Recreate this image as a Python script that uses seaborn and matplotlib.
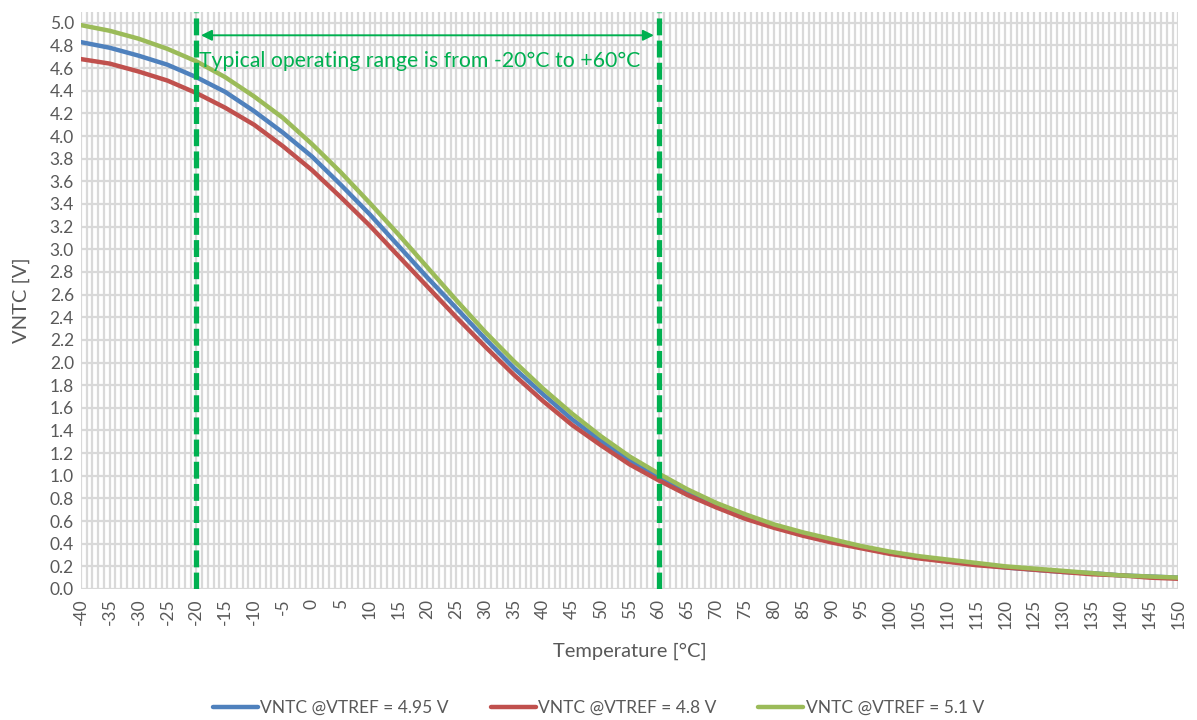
import numpy as np
import pandas as pd
import seaborn as sns
import matplotlib.pyplot as plt
from matplotlib.ticker import MultipleLocator

# temperature points, read every 5 degC
temps = list(range(-40, 151, 5))

# VNTC @ VTREF = 4.95 V
v_495 = [4.83, 4.78, 4.71, 4.63, 4.52, 4.39, 4.22, 4.03, 3.82, 3.57,
         3.31, 3.03, 2.75, 2.48, 2.21, 1.95, 1.72, 1.50, 1.31, 1.14,
         0.99, 0.85, 0.74, 0.64, 0.56, 0.49, 0.42, 0.37, 0.32, 0.28,
         0.25, 0.22, 0.19, 0.17, 0.15, 0.14, 0.12, 0.11, 0.10]
# VNTC @ VTREF = 4.8 V
v_48 = [4.68, 4.64, 4.57, 4.49, 4.38, 4.25, 4.10, 3.91, 3.70, 3.46,
        3.21, 2.94, 2.67, 2.40, 2.14, 1.89, 1.66, 1.45, 1.27, 1.10,
        0.96, 0.83, 0.72, 0.62, 0.54, 0.47, 0.41, 0.36, 0.31, 0.27,
        0.24, 0.21, 0.19, 0.17, 0.15, 0.13, 0.12, 0.10, 0.09]
# VNTC @ VTREF = 5.1 V
v_51 = [4.98, 4.93, 4.86, 4.77, 4.66, 4.52, 4.35, 4.16, 3.93, 3.68,
        3.41, 3.13, 2.84, 2.55, 2.27, 2.01, 1.77, 1.55, 1.35, 1.17,
        1.02, 0.88, 0.76, 0.66, 0.57, 0.50, 0.44, 0.38, 0.33, 0.29,
        0.26, 0.23, 0.20, 0.18, 0.16, 0.14, 0.12, 0.11, 0.10]

series_names = ['VNTC @VTREF = 4.95 V', 'VNTC @VTREF = 4.8 V', 'VNTC @VTREF = 5.1 V']
series_colors = ['#4f81bd', '#c0504d', '#9bbb59']
range_low, range_high = -20, 60
range_text = 'Typical operating range is from -20°C to +60°C'

df = pd.concat([
    pd.DataFrame({'Temperature': temps, 'VNTC': v, 'series': name})
    for v, name in zip([v_495, v_48, v_51], series_names)
])

sns.set_style('white')
plt.rcParams['font.family'] = ['Lato', 'DejaVu Sans']

fig = plt.figure(figsize=(11.97, 7.2), dpi=100)
ax = fig.add_axes([0.0675, 0.182, 0.917, 0.802])

grid_col = '#d9d9d9'
sns.lineplot(data=df, x='Temperature', y='VNTC', hue='series',
             palette=dict(zip(series_names, series_colors)),
             linewidth=3.2, ax=ax, zorder=3)

ax.set_xlim(-40, 150)
ax.set_ylim(0, 5.1)
ax.xaxis.set_minor_locator(MultipleLocator(1))
yt = np.arange(0, 5.01, 0.2)
ax.set_yticks(yt)
ax.set_yticklabels([f'{t:.1f}' for t in yt])
ax.set_xticks(range(-40, 151, 5))
ax.set_xticklabels([str(t) for t in range(-40, 151, 5)], rotation=90)

ax.grid(which='major', axis='both', color=grid_col, linewidth=1.6)
ax.grid(which='minor', axis='x', color=grid_col, linewidth=1.6)
ax.set_axisbelow(True)
for s in ax.spines.values():
    s.set_visible(False)
ax.tick_params(which='both', length=0, labelsize=12.5, labelcolor='#595959')
ax.tick_params(axis='x', pad=7)
ax.tick_params(axis='y', pad=5)

ax.set_xlabel('Temperature [°C]', fontsize=14.5, color='#595959', labelpad=10)
ax.set_ylabel('VNTC [V]', fontsize=14.5, color='#595959', labelpad=14)

# operating range markers
for xv in (range_low, range_high):
    ax.axvline(xv, color='#00b050', linewidth=3.8, linestyle=(0, (3.2, 1.0)), zorder=4)
ax.annotate('', xy=(range_low + 0.8, 4.89), xytext=(range_high - 0.8, 4.89),
            arrowprops=dict(arrowstyle='<|-|>', color='#00b050', lw=1.4,
                            mutation_scale=16, shrinkA=0, shrinkB=0), zorder=5)
ax.text(range_low + 0.5, 4.66, range_text, color='#00b050', fontsize=15.3,
        ha='left', va='center', zorder=5)

handles, labels = ax.get_legend_handles_labels()
ax.legend(handles, labels, loc='center', bbox_to_anchor=(0.5, 12 / 720),
          bbox_transform=fig.transFigure, ncol=3, frameon=False, fontsize=12.5,
          handlelength=2.6, handletextpad=0.15, columnspacing=2.4,
          labelcolor='#595959')

fig.savefig('out.png', dpi=100)
